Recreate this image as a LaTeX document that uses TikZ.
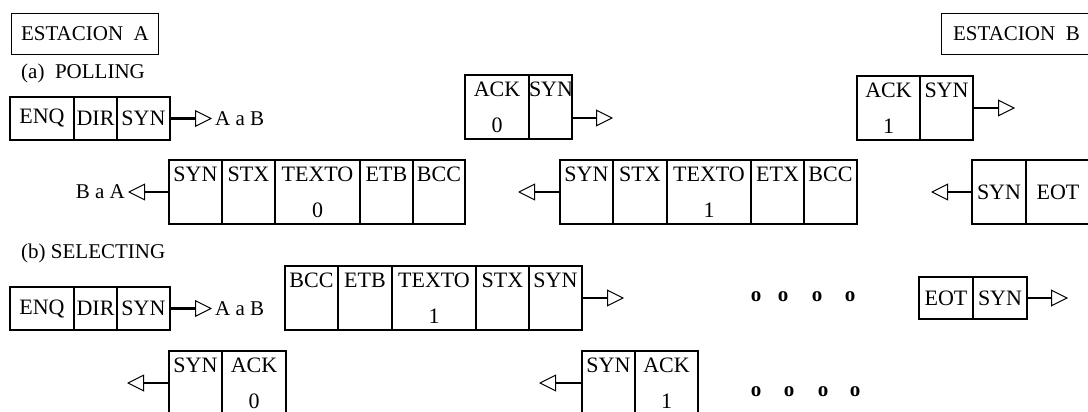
\documentclass[tikz,border=0pt]{standalone}
\usepackage{fontspec}
\setmainfont{Liberation Serif}
\usetikzlibrary{arrows.meta,positioning}

\begin{document}
\begin{tikzpicture}[
    x=1pt, y=-1pt,
    every node/.style={font=\fontsize{21}{34}\selectfont},
    cell/.style={draw, line width=2.6pt, inner sep=0pt, outer sep=0pt, minimum height=64pt, align=center, font=\fontsize{22}{36}\selectfont},
    low/.style={cell, minimum height=43pt},
    station/.style={draw, line width=0.9pt, inner sep=0pt, minimum width=147pt, minimum height=41pt, anchor=north west},
    lbl/.style={inner sep=3pt},
    dotmark/.style={font=\fontsize{21}{34}\selectfont\bfseries, inner sep=0pt},
    arr/.style={line width=2.6pt, -{Triangle[open, length=17pt, width=17pt, line width=1pt]}}
  ]
  \useasboundingbox (0,0) rectangle (1088,412);

  % stations and headings
  \node[station] (staA) at (11,13) {ESTACION\ \ A};
  \node[station, minimum width=150pt] (staB) at (941,13) {ESTACION\ \ B};
  \node[anchor=west, inner sep=0pt] (polling) at (21,73) {(a)\ \ POLLING};
  \node[anchor=west, inner sep=0pt] (selecting) at (21,253) {(b) SELECTING};

  % (a) polling
  \node[low, text width=64pt, anchor=north west] (p1enq) at (10,97) {ENQ};
  \node[low, text width=43pt, right=0pt of p1enq] (p1dir) {DIR};
  \node[low, text width=53pt, right=0pt of p1dir] (p1syn) {SYN};
  \node[lbl, right=42pt of p1syn] (p1dst) {A a B};
  \draw[arr] (p1syn) -- (p1dst);

  \node[cell, text width=64pt, anchor=north west] (p2ack) at (465,75) {ACK\\0};
  \node[cell, text width=43pt, right=0pt of p2ack] (p2syn) {SYN\\\mbox{}};
  \coordinate (p2tip) at (613,118);
  \draw[arr] (p2syn.east |- p2tip) -- (p2tip);

  \node[cell, text width=63pt, anchor=north west] (p3ack) at (857,76) {ACK\\1};
  \node[cell, text width=53pt, right=0pt of p3ack] (p3syn) {SYN\\\mbox{}};
  \coordinate[right=42pt of p3syn] (p3tip);
  \draw[arr] (p3syn) -- (p3tip);

  \node[cell, text width=53pt, anchor=north west] (p4syn) at (169,160) {SYN\\\mbox{}};
  \node[cell, text width=53pt, right=0pt of p4syn] (p4stx) {STX\\\mbox{}};
  \node[cell, text width=85pt, right=0pt of p4stx] (p4txt) {TEXTO\\0};
  \node[cell, text width=53pt, right=0pt of p4txt] (p4etb) {ETB\\\mbox{}};
  \node[cell, text width=52pt, right=0pt of p4etb] (p4bcc) {BCC\\\mbox{}};
  \node[lbl, left=41pt of p4syn] (p4dst) {B a A};
  \draw[arr] (p4syn) -- (p4dst);

  \node[cell, text width=53pt, anchor=north west] (p5syn) at (560,160) {SYN\\\mbox{}};
  \node[cell, text width=54pt, right=0pt of p5syn] (p5stx) {STX\\\mbox{}};
  \node[cell, text width=84pt, right=0pt of p5stx] (p5txt) {TEXTO\\1};
  \node[cell, text width=53pt, right=0pt of p5txt] (p5etx) {ETX\\\mbox{}};
  \node[cell, text width=53pt, right=0pt of p5etx] (p5bcc) {BCC\\\mbox{}};
  \coordinate[left=42pt of p5syn] (p5tip);
  \draw[arr] (p5syn) -- (p5tip);

  \node[cell, text width=54pt, anchor=north west] (p6syn) at (972,160) {SYN};
  \node[cell, text width=64pt, right=0pt of p6syn] (p6eot) {EOT};
  \coordinate[left=41pt of p6syn] (p6tip);
  \draw[arr] (p6syn) -- (p6tip);

  % (b) selecting
  \node[low, text width=64pt, anchor=north west] (s1enq) at (10,287) {ENQ};
  \node[low, text width=43pt, right=0pt of s1enq] (s1dir) {DIR};
  \node[low, text width=53pt, right=0pt of s1dir] (s1syn) {SYN};
  \node[lbl, right=42pt of s1syn] (s1dst) {A a B};
  \draw[arr] (s1syn) -- (s1dst);

  \node[cell, text width=53pt, anchor=north west] (s2bcc) at (285,266) {BCC\\\mbox{}};
  \node[cell, text width=54pt, right=0pt of s2bcc] (s2etb) {ETB\\\mbox{}};
  \node[cell, text width=84pt, right=0pt of s2etb] (s2txt) {TEXTO\\1};
  \node[cell, text width=53pt, right=0pt of s2txt] (s2stx) {STX\\\mbox{}};
  \node[cell, text width=53pt, right=0pt of s2stx] (s2syn) {SYN\\\mbox{}};
  \coordinate[right=42pt of s2syn] (s2tip);
  \draw[arr] (s2syn) -- (s2tip);

  \node[low, text width=54pt, minimum height=42pt, anchor=north west] (s3eot) at (919,277) {EOT};
  \node[low, text width=54pt, minimum height=42pt, right=0pt of s3eot] (s3syn) {SYN};
  \coordinate[right=41pt of s3syn] (s3tip);
  \draw[arr] (s3syn) -- (s3tip);

  \node[cell, text width=53pt, anchor=north west] (s4syn) at (169,351) {SYN\\\mbox{}};
  \node[cell, text width=64pt, right=0pt of s4syn] (s4ack) {ACK\\0};
  \coordinate[left=42pt of s4syn] (s4tip);
  \draw[arr] (s4syn) -- (s4tip);

  \node[cell, text width=53pt, anchor=north west] (s5syn) at (582,351) {SYN\\\mbox{}};
  \node[cell, text width=63pt, right=0pt of s5syn] (s5ack) {ACK\\1};
  \coordinate[left=43pt of s5syn] (s5tip);
  \draw[arr] (s5syn) -- (s5tip);

  % dots
  \foreach \x [count=\i] in {756,783,817,850}
    \node[dotmark] (dotA\i) at (\x,297) {o};
  \foreach \x [count=\i] in {756,789,823,855}
    \node[dotmark] (dotB\i) at (\x,392) {o};
\end{tikzpicture}
\end{document}
